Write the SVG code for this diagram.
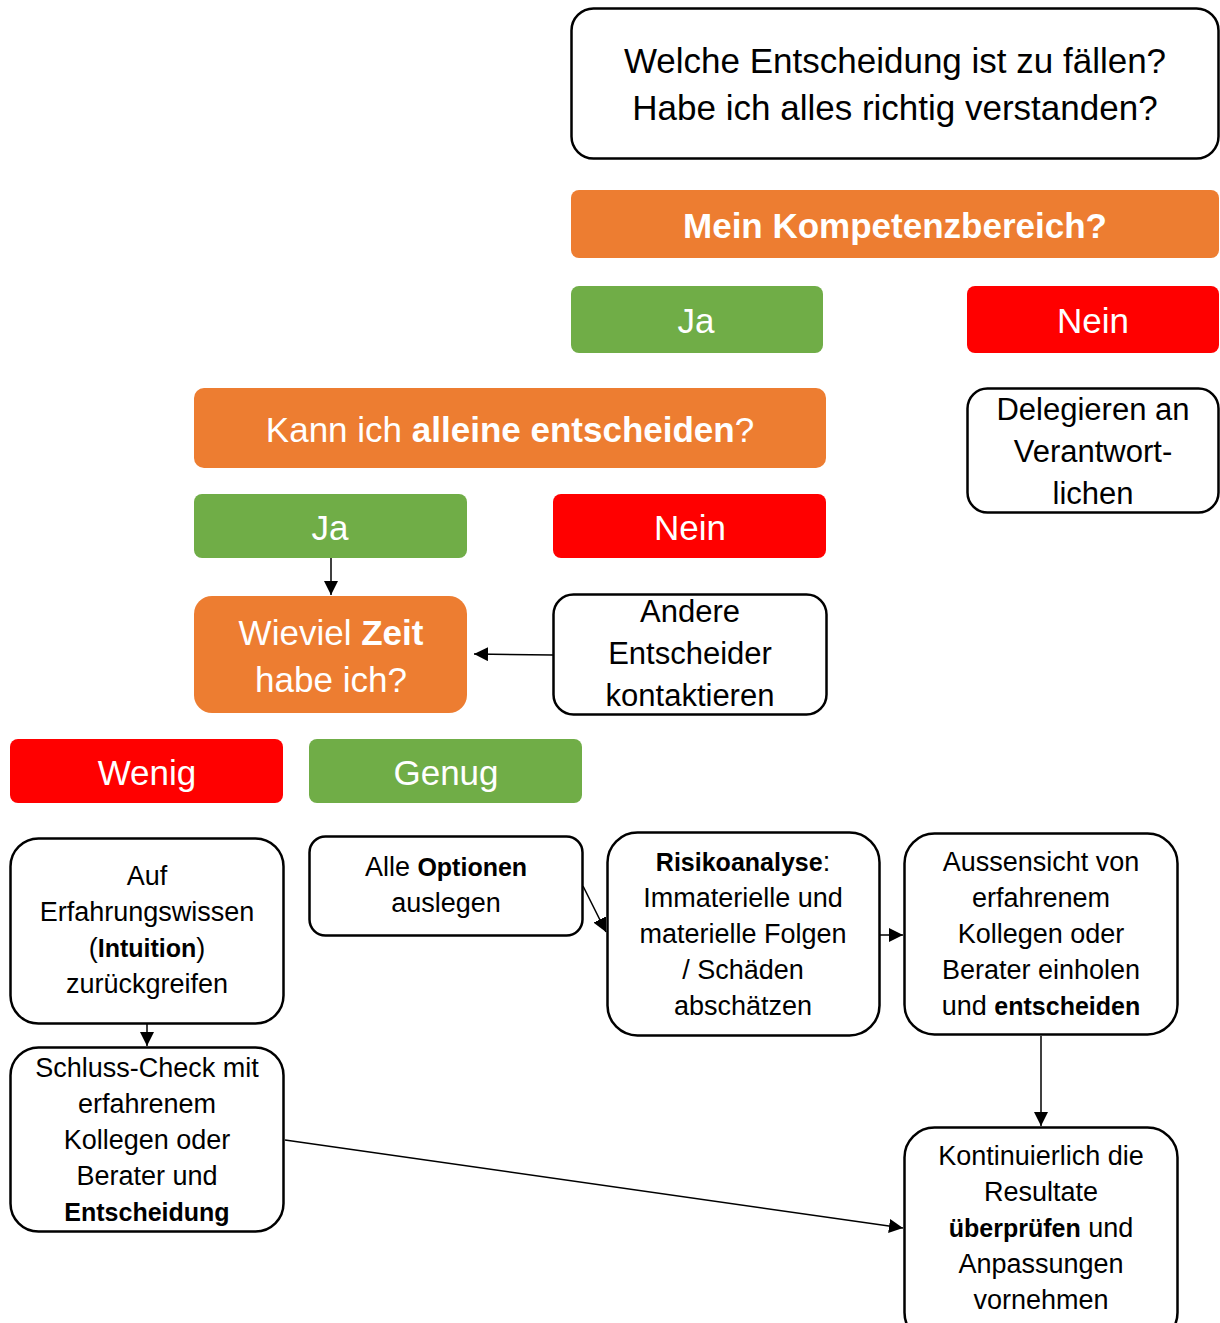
<svg xmlns="http://www.w3.org/2000/svg" width="1220" height="1323" viewBox="0 0 1220 1323">
<style>
text{font-family:"Liberation Sans",Arial,sans-serif;text-anchor:middle}
.w{fill:#fff;stroke:#000;stroke-width:2.5}
.o{fill:#ED7D31}
.g{fill:#70AD47}
.r{fill:#FF0000}
.lt{fill:#fff;font-size:35px}
.bt{fill:#000;font-size:27px}
.mt{fill:#000;font-size:31px}
.b{font-weight:bold}
.bt .b,.bt.b{font-size:25px}
.c{stroke:#000;stroke-width:1.5;fill:none;marker-end:url(#ah)}
</style>
<defs>
<marker id="ah" markerUnits="userSpaceOnUse" markerWidth="14" markerHeight="14" viewBox="0 0 12 12" refX="12" refY="6" orient="auto">
<path d="M0,0 L12,6 L0,12 z" fill="#000"/>
</marker>
</defs>
<rect width="1220" height="1323" fill="#fff"/>
<g id="connectors">
<line class="c" x1="331" y1="558" x2="331" y2="595"/>
<line class="c" x1="553" y1="655" x2="474" y2="654"/>
<line class="c" x1="147" y1="1024" x2="147" y2="1046"/>
<line class="c" x1="583" y1="886" x2="606" y2="932"/>
<line class="c" x1="880" y1="935" x2="903" y2="935"/>
<line class="c" x1="1041" y1="1036" x2="1041" y2="1126"/>
<line class="c" x1="285" y1="1140" x2="903" y2="1228"/>
</g>
<g id="n_top">
<rect class="w" x="571.5" y="8.5" width="647" height="150" rx="22"/>
<text class="mt" x="895" y="73" style="font-size:35px">Welche Entscheidung ist zu fällen?</text>
<text class="mt" x="895" y="120" style="font-size:35px">Habe ich alles richtig verstanden?</text>
</g>
<g id="n_kompetenz">
<rect class="o" x="571" y="190" width="648" height="68" rx="8"/>
<text class="lt b" x="895" y="238">Mein Kompetenzbereich?</text>
</g>
<g id="n_ja1">
<rect class="g" x="571" y="286" width="252" height="67" rx="8"/>
<text class="lt" x="696" y="333">Ja</text>
</g>
<g id="n_nein1">
<rect class="r" x="967" y="286" width="252" height="67" rx="8"/>
<text class="lt" x="1093" y="333">Nein</text>
</g>
<g id="n_delegieren">
<rect class="w" x="967.5" y="388.5" width="251" height="124" rx="20"/>
<text class="mt" x="1093" y="420">Delegieren an</text>
<text class="mt" x="1093" y="462">Verantwort-</text>
<text class="mt" x="1093" y="504">lichen</text>
</g>
<g id="n_kann">
<rect class="o" x="194" y="388" width="632" height="80" rx="10"/>
<text class="lt" x="510" y="442">Kann ich <tspan class="b">alleine entscheiden</tspan>?</text>
</g>
<g id="n_ja2">
<rect class="g" x="194" y="494" width="273" height="64" rx="8"/>
<text class="lt" x="330" y="540">Ja</text>
</g>
<g id="n_nein2">
<rect class="r" x="553" y="494" width="273" height="64" rx="8"/>
<text class="lt" x="690" y="540">Nein</text>
</g>
<g id="n_wieviel">
<rect class="o" x="194" y="596" width="273" height="117" rx="18"/>
<text class="lt" x="331" y="645">Wieviel <tspan class="b">Zeit</tspan></text>
<text class="lt" x="331" y="692">habe ich?</text>
</g>
<g id="n_andere">
<rect class="w" x="553.5" y="594.5" width="273" height="120" rx="20"/>
<text class="mt" x="690" y="622">Andere</text>
<text class="mt" x="690" y="664">Entscheider</text>
<text class="mt" x="690" y="706">kontaktieren</text>
</g>
<g id="n_wenig">
<rect class="r" x="10" y="739" width="273" height="64" rx="8"/>
<text class="lt" x="147" y="785">Wenig</text>
</g>
<g id="n_genug">
<rect class="g" x="309" y="739" width="273" height="64" rx="8"/>
<text class="lt" x="446" y="785">Genug</text>
</g>
<g id="n_auf">
<rect class="w" x="10.5" y="838.5" width="273" height="185" rx="28"/>
<text class="bt" x="147" y="885">Auf</text>
<text class="bt" x="147" y="921">Erfahrungswissen</text>
<text class="bt" x="147" y="957">(<tspan class="b">Intuition</tspan>)</text>
<text class="bt" x="147" y="993">zurückgreifen</text>
</g>
<g id="n_schluss">
<rect class="w" x="10.5" y="1047.5" width="273" height="184" rx="28"/>
<text class="bt" x="147" y="1077">Schluss-Check mit</text>
<text class="bt" x="147" y="1113">erfahrenem</text>
<text class="bt" x="147" y="1149">Kollegen oder</text>
<text class="bt" x="147" y="1185">Berater und</text>
<text class="bt b" x="147" y="1221">Entscheidung</text>
</g>
<g id="n_alle">
<rect class="w" x="309.5" y="836.5" width="273" height="99" rx="16"/>
<text class="bt" x="446" y="876">Alle <tspan class="b">Optionen</tspan></text>
<text class="bt" x="446" y="912">auslegen</text>
</g>
<g id="n_risiko">
<rect class="w" x="607.5" y="832.5" width="272" height="203" rx="30"/>
<text class="bt" x="743" y="871"><tspan class="b">Risikoanalyse</tspan>:</text>
<text class="bt" x="743" y="907">Immaterielle und</text>
<text class="bt" x="743" y="943">materielle Folgen</text>
<text class="bt" x="743" y="979">/ Schäden</text>
<text class="bt" x="743" y="1015">abschätzen</text>
</g>
<g id="n_aussensicht">
<rect class="w" x="904.5" y="833.5" width="273" height="201" rx="30"/>
<text class="bt" x="1041" y="871">Aussensicht von</text>
<text class="bt" x="1041" y="907">erfahrenem</text>
<text class="bt" x="1041" y="943">Kollegen oder</text>
<text class="bt" x="1041" y="979">Berater einholen</text>
<text class="bt" x="1041" y="1015">und <tspan class="b">entscheiden</tspan></text>
</g>
<g id="n_kontinuierlich">
<rect class="w" x="904.5" y="1127.5" width="273" height="215" rx="30"/>
<text class="bt" x="1041" y="1165">Kontinuierlich die</text>
<text class="bt" x="1041" y="1201">Resultate</text>
<text class="bt" x="1041" y="1237"><tspan class="b">überprüfen</tspan> und</text>
<text class="bt" x="1041" y="1273">Anpassungen</text>
<text class="bt" x="1041" y="1309">vornehmen</text>
</g>
</svg>
